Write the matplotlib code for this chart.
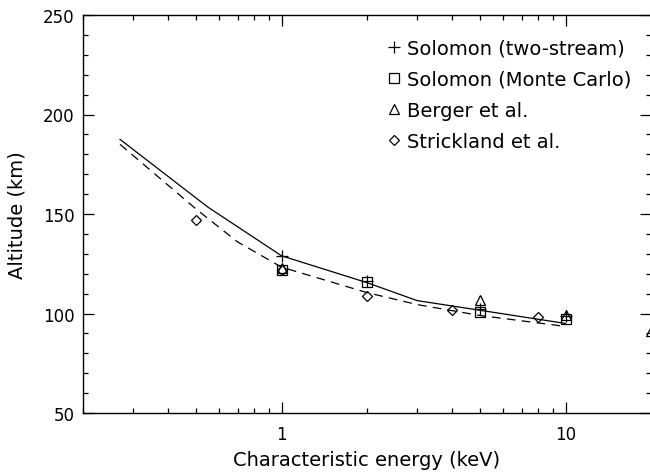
import matplotlib
matplotlib.use("Agg")
import matplotlib.pyplot as plt
from matplotlib.ticker import MultipleLocator, FixedLocator, FixedFormatter, LogLocator, NullFormatter
from matplotlib.lines import Line2D

# model curves (characteristic energy in keV, altitude in km)
solid_energy = [0.27, 0.55, 1, 2, 3, 10]
solid_alt = [187.5, 153.5, 129, 115.5, 106.5, 95]
dashed_energy = [0.27, 0.5, 0.7, 1, 2, 3, 5, 10]
dashed_alt = [185, 152.5, 136, 123.3, 110.5, 104.5, 99, 93.5]

# published points
two_stream_energy = [1, 2, 5, 10]
two_stream_alt = [129, 116.5, 102.5, 98.5]
monte_carlo_energy = [1, 2, 5, 10]
monte_carlo_alt = [122, 116, 101, 97]
berger_energy = [1, 5, 10, 20]
berger_alt = [123, 107, 99, 91]
strickland_energy = [0.5, 1, 2, 4, 8]
strickland_alt = [147, 122, 109, 102, 98]

plt.rcParams["font.family"] = ["DejaVu Sans"]

fig = plt.figure(figsize=(6.5, 4.77), dpi=100)
# right spine sits just past the image edge, as in the scan
ax = fig.add_axes([83 / 650, 1 - 414 / 477, 568 / 650, 398 / 477])

ax.plot(solid_energy, solid_alt, color="black", lw=0.9)
ax.plot(dashed_energy, dashed_alt, color="black", lw=0.9, linestyle=(0, (7, 5)))

mk = dict(linestyle="none", color="black", markerfacecolor="none", markeredgewidth=0.9)
ax.plot(two_stream_energy, two_stream_alt, marker="+", markersize=8, **mk)
ax.plot(monte_carlo_energy, monte_carlo_alt, marker="s", markersize=7, **mk)
ax.plot(berger_energy, berger_alt, marker="^", markersize=7, clip_on=False, **mk)
ax.plot(strickland_energy, strickland_alt, marker="D", markersize=5.5, **mk)

ax.set_xscale("log")
ax.set_xlim(0.2, 20)
ax.set_ylim(50, 250)

ax.xaxis.set_major_locator(FixedLocator([1, 10]))
ax.xaxis.set_major_formatter(FixedFormatter(["1", "10"]))
ax.xaxis.set_minor_locator(LogLocator(base=10, subs=range(2, 10)))
ax.xaxis.set_minor_formatter(NullFormatter())
ax.yaxis.set_major_locator(MultipleLocator(50))
ax.yaxis.set_minor_locator(MultipleLocator(10))

ax.tick_params(which="both", direction="in", top=True, right=True, labelsize=12, width=0.9)
ax.tick_params(which="major", length=8)
ax.tick_params(which="minor", length=3.5)
ax.tick_params(axis="x", which="major", pad=9)
ax.tick_params(axis="y", which="major", pad=6)
for s in ax.spines.values():
    s.set_linewidth(1.0)

ax.set_xlabel("Characteristic energy (keV)", fontsize=14, labelpad=5)
ax.set_ylabel("Altitude (km)", fontsize=14, labelpad=12)

handles = [
    Line2D([], [], marker="+", markersize=8, **mk),
    Line2D([], [], marker="s", markersize=7, **mk),
    Line2D([], [], marker="^", markersize=7, **mk),
    Line2D([], [], marker="D", markersize=5.5, **mk),
]
labels = ["Solomon (two-stream)", "Solomon (Monte Carlo)", "Berger et al.", "Strickland et al."]
ax.legend(handles, labels, loc="upper left", bbox_to_anchor=(0.535, 0.94), frameon=False,
          fontsize=14, handlelength=0.7, handletextpad=0.35, labelspacing=0.62, borderpad=0,
          borderaxespad=0)

fig.savefig("out.png", dpi=100)
